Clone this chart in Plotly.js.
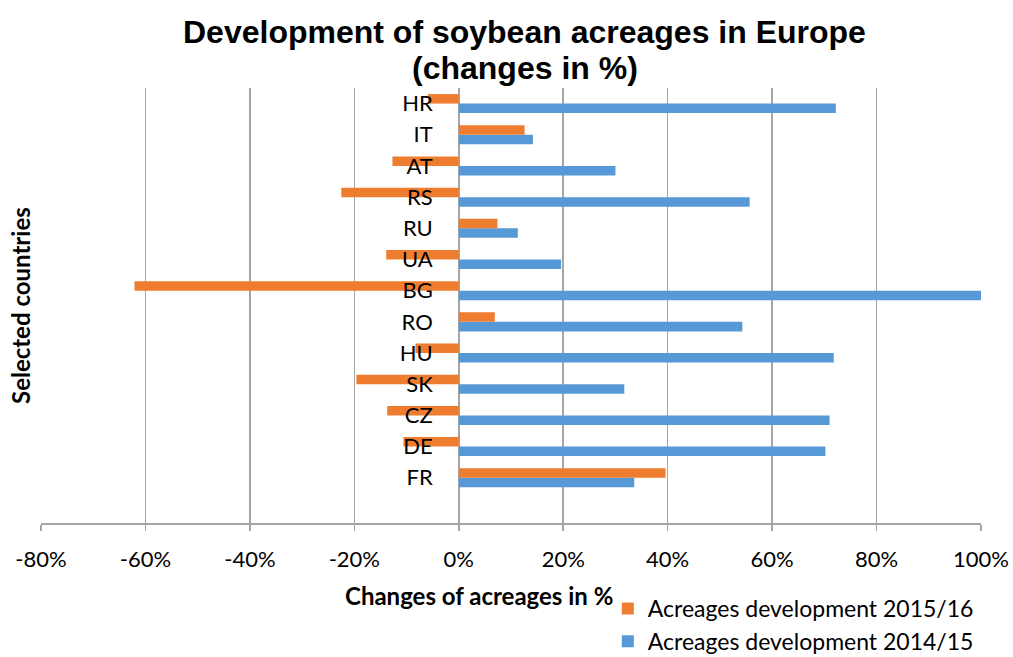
<!DOCTYPE html>
<html>
<head>
<meta charset="utf-8">
<script src="https://cdn.plot.ly/plotly-3.0.1.min.js"></script>
<style>
  html, body { margin: 0; padding: 0; background: #fff; }
  #chart { width: 1013px; height: 657px; }
</style>
</head>
<body>
<div id="chart"></div>
<script>
// Countries, bottom to top
const countries = ['FR', 'DE', 'CZ', 'SK', 'HU', 'RO', 'BG', 'UA', 'RU', 'RS', 'AT', 'IT', 'HR'];

// Change of soybean acreage, in %
const dev1415 = [33.6, 70.2, 71.0, 31.7, 71.8, 54.3, 100.3, 19.6, 11.3, 55.7, 30.0, 14.2, 72.2];
const dev1516 = [39.6, -10.6, -13.7, -19.6, -8.3, 6.9, -62.1, -13.9, 7.4, -22.5, -12.7, 12.6, -5.9];

const seriesNames = ['Acreages development 2014/15', 'Acreages development 2015/16'];
const xTicks = [-80, -60, -40, -20, 0, 20, 40, 60, 80, 100];
const titleLines = ['Development of soybean acreages in Europe', '(changes in %)'];

const FONT = 'Lato, "Open Sans", sans-serif';
const TITLE_FONT = '"Liberation Sans", Arial, sans-serif';
const GRID = '#a6a6a6';

const traces = [
  {
    type: 'bar', orientation: 'h',
    name: seriesNames[0], legendgroup: 'a', legendrank: 2,
    y: countries, x: dev1415,
    marker: { color: '#5799d6' },
    hoverinfo: 'x+y'
  },
  {
    type: 'bar', orientation: 'h',
    name: seriesNames[1], legendgroup: 'b', legendrank: 1,
    y: countries, x: dev1516,
    marker: { color: '#ef7d2f' },
    hoverinfo: 'x+y'
  }
];

// plot area spans 88..523 px vertically, 41..981 px horizontally
const plotTop = 88, plotBottom = 523, plotH = plotBottom - plotTop;
const plotLeft = 41, plotW = 940;
const py = px => (plotBottom - px) / plotH;
const pxX = px => (px - plotLeft) / plotW;

const layout = {
  width: 1013, height: 657,
  margin: { l: 41, r: 32, t: 88, b: 134, autoexpand: false },
  paper_bgcolor: '#ffffff', plot_bgcolor: '#ffffff',
  font: { family: FONT, size: 22, color: '#000' },
  barmode: 'group', bargap: 0.39, bargroupgap: 0,
  xaxis: {
    range: [-80, 100],
    tickvals: xTicks,
    ticktext: xTicks.map(v => v + '%'),
    showgrid: true, gridcolor: GRID, gridwidth: 1.5,
    zeroline: false,
    showline: true, linecolor: GRID, linewidth: 1.5,
    ticks: 'outside', ticklen: 6, tickcolor: GRID, tickwidth: 1.5,
    ticklabelstandoff: 10,
    tickfont: { family: FONT, size: 22, color: '#000' },
    fixedrange: true
  },
  yaxis: {
    type: 'category',
    categoryorder: 'array', categoryarray: countries,
    range: [-1.45, 12.5],
    anchor: 'free', position: 80 / 180, side: 'left',
    showgrid: false, zeroline: false, showline: false,
    ticks: '', ticklabelstandoff: 26,
    tickfont: { family: FONT, size: 22, color: '#000' },
    fixedrange: true
  },
  legend: {
    x: 0.603, xanchor: 'left',
    y: py(587), yanchor: 'top',
    traceorder: 'grouped', tracegroupgap: 0,
    bgcolor: 'rgba(0,0,0,0)',
    font: { family: FONT, size: 23, color: '#000' }
  },
  annotations: [
    {
      text: '<b>' + titleLines[0] + '</b>',
      xref: 'paper', yref: 'paper',
      x: pxX(524.5), y: py(32),
      xanchor: 'center', yanchor: 'middle', showarrow: false,
      font: { family: TITLE_FONT, size: 32, color: '#000' }
    },
    {
      text: '<b>' + titleLines[1] + '</b>',
      xref: 'paper', yref: 'paper',
      x: pxX(524.5), y: py(68),
      xanchor: 'center', yanchor: 'middle', showarrow: false,
      font: { family: TITLE_FONT, size: 32, color: '#000' }
    },
    {
      text: '<b>Changes of acreages in %</b>',
      xref: 'paper', yref: 'paper',
      x: pxX(479), y: py(595),
      xanchor: 'center', yanchor: 'middle',
      showarrow: false,
      font: { family: FONT, size: 24, color: '#000' }
    },
    {
      text: '<b>Selected countries</b>',
      xref: 'paper', yref: 'paper',
      x: pxX(20), y: py(306),
      xanchor: 'center', yanchor: 'middle',
      textangle: -90, showarrow: false,
      font: { family: FONT, size: 24, color: '#000' }
    }
  ]
};

Plotly.newPlot('chart', traces, layout, { displayModeBar: false, staticPlot: true });
</script>
</body>
</html>
